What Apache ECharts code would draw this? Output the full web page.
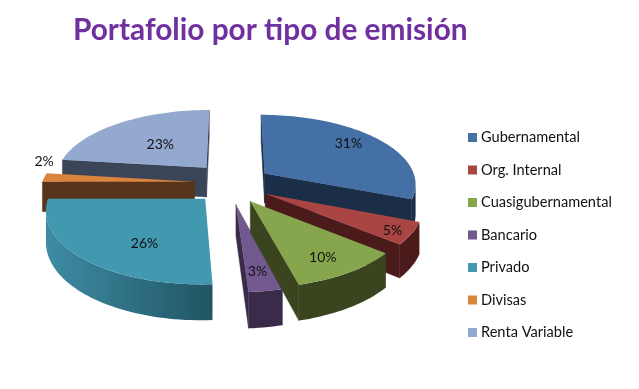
<!DOCTYPE html>
<html>
<head>
<meta charset="utf-8">
<style>html,body{margin:0;padding:0;background:#fff}#c{width:639px;height:389px}</style>
<script src="https://cdn.jsdelivr.net/npm/echarts@6/dist/echarts.min.js"></script>
</head>
<body>
<div id="c"></div>
<script>
const categories = ['Gubernamental','Org. Internal','Cuasigubernamental','Bancario','Privado','Divisas','Renta Variable'];
const values = [31,5,10,3,26,2,23];
const topColors = ['#4570A6','#A94543','#87A54C','#71588F','#4198AF','#DB843D','#93A9CF'];
const wallColors = ['#1B2E47','#4A1B1A','#3A451F','#3A2B4A','#215564','#57341A','#3C4558'];
const wallLightColors = ['#1B2E47','#4A1B1A','#3A451F','#3A2B4A','#3E8CA4','#57341A','#3C4558'];
const paintOrder = [6,0,5,1,4,3,2];
const labelNudges = [[1,-5],[24,9],[4,7],[1,7],[25,3],[-42,-17],[18,10]];
const sliceShifts = [[2,2],[0,0],[-3,0],[-3,0],[-2,0],[-2,0],[-3,0]];

const view = {cx:233, cy:183, rx:152.5, ry:69.5, persp:0.135, explodeU:0.24, explodeV:0.30, depth:30, labelFrac:0.72};
const total = values.reduce((a,b)=>a+b,0);
const TAU = Math.PI*2;

function project(u,v,drop){
  const s = 1/(1 - view.persp*v);
  return [view.cx + view.rx*u*s, view.cy + view.ry*v*s + (drop?view.depth*s:0)];
}
function sliceAngles(i){
  const before = values.slice(0,i).reduce((a,b)=>a+b,0);
  return [before/total*TAU, (before+values[i])/total*TAU];
}
function quad(a,b,c,d,fill){
  return {type:'polygon',shape:{points:[a,b,c,d]},style:{fill:fill,stroke:fill,lineWidth:0.5}};
}
function renderSlice(i){
  const [a0,a1]=sliceAngles(i);
  const mid=(a0+a1)/2;
  const ou=Math.sin(mid)*view.explodeU, ov=-Math.cos(mid)*view.explodeV;
  const n=Math.max(6,Math.ceil((a1-a0)/0.03));
  const rim=[];
  for(let k=0;k<=n;k++){
    const t=a0+(a1-a0)*k/n;
    rim.push([ou+Math.sin(t),ov-Math.cos(t)]);
  }
  const children=[];
  const apexT=project(ou,ov,false), apexB=project(ou,ov,true);
  const fT=project(rim[0][0],rim[0][1],false), fB=project(rim[0][0],rim[0][1],true);
  const lT=project(rim[n][0],rim[n][1],false), lB=project(rim[n][0],rim[n][1],true);
  if(fT[0]<apexT[0]) children.push(quad(apexT,fT,fB,apexB,wallColors[i]));
  if(apexT[0]<lT[0]) children.push(quad(lT,apexT,apexB,lB,wallColors[i]));
  const upper=[], lower=[];
  for(let k=0;k<=n;k++){
    const p=project(rim[k][0],rim[k][1],false);
    const prev=k>0?project(rim[k-1][0],rim[k-1][1],false):null;
    const next=k<n?project(rim[k+1][0],rim[k+1][1],false):null;
    if((next&&next[0]<p[0])||(prev&&p[0]<prev[0])){
      upper.push(p); lower.unshift(project(rim[k][0],rim[k][1],true));
    }
  }
  if(upper.length>1){
    const xs=upper.map(p=>p[0]);
    const fill={type:'linear',global:true,x:Math.min(...xs),y:0,x2:Math.max(...xs),y2:0,
      colorStops:[{offset:0,color:wallLightColors[i]},{offset:1,color:wallColors[i]}]};
    children.push({type:'polygon',shape:{points:upper.concat(lower)},style:{fill:fill}});
  }
  const face=[apexT].concat(rim.map(r=>project(r[0],r[1],false)));
  children.push({type:'polygon',shape:{points:face},style:{fill:topColors[i]}});
  const lp=project(ou+Math.sin(mid)*view.labelFrac,ov-Math.cos(mid)*view.labelFrac,false);
  children.push({type:'text',style:{text:values[i]+'%',x:lp[0]+labelNudges[i][0],y:lp[1]+labelNudges[i][1],
    fill:'#111',font:'14px Lato',align:'center',verticalAlign:'middle'}});
  return {type:'group',x:sliceShifts[i][0],y:sliceShifts[i][1],children:children};
}

const chart=echarts.init(document.getElementById('c'),null,{renderer:'canvas'});
chart.setOption({
  animation:false,
  backgroundColor:'#fff',
  title:{text:'Portafolio por tipo de emisión',left:68,top:10,
    textStyle:{color:'#7030A0',fontFamily:'Lato',fontWeight:'bold',fontSize:29.8}},
  legend:{orient:'vertical',left:463,top:125,itemWidth:9,itemHeight:9,itemGap:17.5,icon:'rect',
    data:categories,selectedMode:false,
    textStyle:{color:'#111',fontFamily:'Lato',fontSize:14.6,lineHeight:14,padding:[0,0,0,-1]}},
  series:categories.map((name,i)=>({
    type:'custom',name:name,coordinateSystem:'none',z:2+paintOrder.indexOf(i),silent:true,
    itemStyle:{color:topColors[i]},
    data:[[values[i]]],
    renderItem:()=>renderSlice(i)
  }))
});
</script>
</body>
</html>
